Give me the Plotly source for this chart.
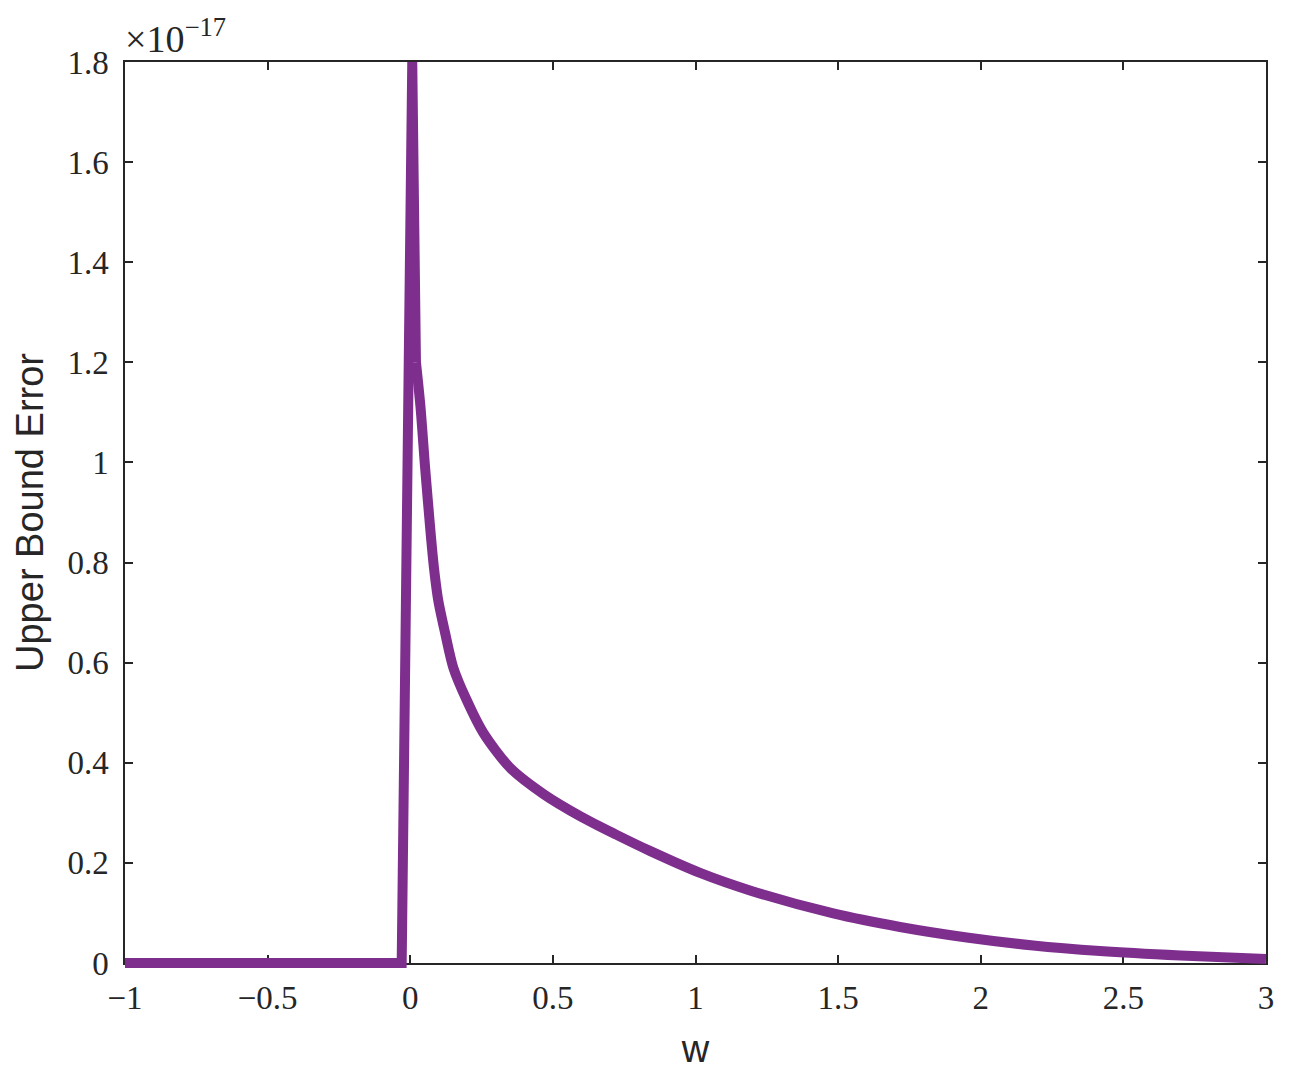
import plotly.graph_objects as go

# ---- data (y in units of 1e-17) ----
# rising step and peak
w_step = [-1.0, -0.030, 0.007, 0.020]
err_step_scaled = [0.0, 0.0, 1.8, 1.2]
# smooth decaying tail
w_tail = [0.020, 0.036, 0.052, 0.063, 0.072, 0.083, 0.098, 0.122, 0.151, 0.198, 0.256,
          0.350, 0.466, 0.60, 0.72, 0.84, 1.016, 1.191, 1.483, 1.717, 1.951,
          2.184, 2.418, 2.70, 3.0]
err_tail_scaled = [1.2, 1.11, 0.99, 0.915, 0.855, 0.79, 0.725, 0.66, 0.59, 0.525, 0.46,
                   0.39, 0.338, 0.292, 0.257, 0.224, 0.18, 0.145, 0.099, 0.072, 0.051,
                   0.035, 0.024, 0.015, 0.008]
scale = 1e-17
err_step = [v * scale for v in err_step_scaled]
err_tail = [v * scale for v in err_tail_scaled]

x_ticks = [-1, -0.5, 0, 0.5, 1, 1.5, 2, 2.5, 3]
x_ticktext = ["\u22121", "\u22120.5", "0", "0.5", "1", "1.5", "2", "2.5", "3"]
y_ticks_scaled = [0, 0.2, 0.4, 0.6, 0.8, 1.0, 1.2, 1.4, 1.6, 1.8]
y_ticktext = ["0", "0.2", "0.4", "0.6", "0.8", "1", "1.2", "1.4", "1.6", "1.8"]

# ---- layout geometry (page body has an 8px margin) ----
off = 8
W, H = 1294 - off, 1083 - off
L, R, T, B = 125 - off, 1266 - off, 62 - off, 963 - off   # axes box in figure px
pad = 8                                    # extra room so the thick line is not clipped
ml, mr, mt, mb = L - pad, W - (R + pad), T - pad, H - (B + pad)
pw, ph = W - ml - mr, H - mt - mb
xd = [pad / pw, 1 - pad / pw]
yd = [pad / ph, 1 - pad / ph]
xr = [-1, 3]
yr = [0, 1.8 * scale]
dx = pad * (xr[1] - xr[0]) / (R - L)
dy = pad * (yr[1] - yr[0]) / (B - T)

axis_color = "#262626"
line_color = "#7E2F8E"
tick_font = dict(family="Liberation Serif, Times New Roman, serif", size=33, color=axis_color)
label_font = dict(family="Liberation Sans, Arial, Helvetica, sans-serif", size=38, color=axis_color)

fig = go.Figure()
# invisible anchor trace so the framed subplot (x, y) is created
fig.add_trace(go.Scatter(x=[xr[0]], y=[yr[0]], mode="markers", marker=dict(opacity=0),
                         xaxis="x", yaxis="y", showlegend=False, hoverinfo="skip"))
fig.add_trace(go.Scatter(
    x=w_step, y=err_step, mode="lines",
    line=dict(color=line_color, width=10),
    xaxis="x2", yaxis="y2", showlegend=False,
))
fig.add_trace(go.Scatter(
    x=w_tail, y=err_tail, mode="lines",
    line=dict(color=line_color, width=10, shape="spline", smoothing=0.8),
    xaxis="x2", yaxis="y2", showlegend=False,
))

fig.update_layout(
    width=W, height=H,
    margin=dict(l=ml, r=mr, t=mt, b=mb, pad=0, autoexpand=False),
    paper_bgcolor="white", plot_bgcolor="rgba(0,0,0,0)",
    showlegend=False,
    xaxis=dict(
        domain=xd, range=xr, anchor="y", autorange=False,
        showline=True, linecolor=axis_color, linewidth=1.5, mirror="ticks",
        ticks="inside", ticklen=8, tickwidth=1.5, tickcolor=axis_color,
        tickvals=x_ticks, ticktext=x_ticktext, tickfont=tick_font,
        ticklabelstandoff=5,
        showgrid=False, zeroline=False,
        title=dict(text="w", font=label_font, standoff=20),
    ),
    yaxis=dict(
        domain=yd, range=yr, anchor="x", autorange=False,
        showline=True, linecolor=axis_color, linewidth=1.5, mirror="ticks",
        ticks="inside", ticklen=8, tickwidth=1.5, tickcolor=axis_color,
        tickvals=[v * scale for v in y_ticks_scaled], ticktext=y_ticktext,
        tickfont=tick_font, ticklabelstandoff=8,
        showgrid=False, zeroline=False,
        title=dict(text="Upper Bound Error", font=label_font, standoff=12),
    ),
    xaxis2=dict(domain=[0, 1], range=[xr[0] - dx, xr[1] + dx], anchor="y2", autorange=False,
                visible=False, showgrid=False, zeroline=False),
    yaxis2=dict(domain=[0, 1], range=[yr[0] - dy, yr[1] + dy], anchor="x2", autorange=False,
                visible=False, showgrid=False, zeroline=False),
    annotations=[dict(
        text="\u00d710<sup>\u221217</sup>", xref="x domain", yref="y domain",
        x=0, y=1, xanchor="left", yanchor="bottom", showarrow=False,
        yshift=0, xshift=-2,
        font=dict(family="Liberation Serif, Times New Roman, serif", size=38, color=axis_color),
    )],
)

fig.write_html("out.html")
